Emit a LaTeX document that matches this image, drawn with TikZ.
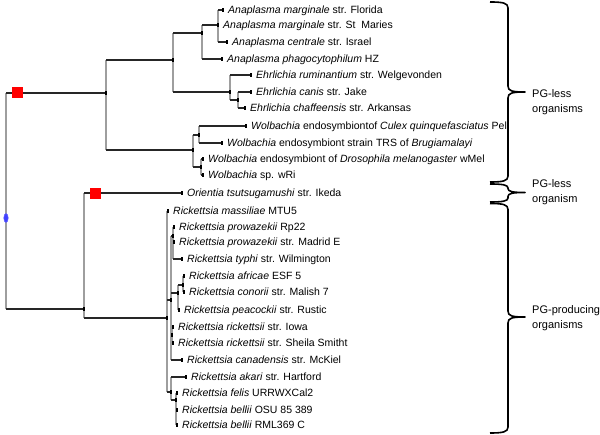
\documentclass[tikz,border=0pt]{standalone}
\usepackage{fontspec}
\setmainfont{Liberation Sans}
\usetikzlibrary{shapes.geometric}
\newcommand{\curlybrace}[4]{%
  \draw[bracestyle] (490,#1) .. controls (503,#1) and (508,#1+1) .. (508,#1+#4)
    -- (508,#2-#4) .. controls (508,#2-1) and (512,#2) .. (525,#2)
    .. controls (512,#2) and (508,#2+1) .. (508,#2+#4)
    -- (508,#3-#4) .. controls (508,#3-1) and (503,#3) .. (490,#3);}
\begin{document}
\begin{tikzpicture}[x=1pt,y=-1pt,
  hline/.style={draw=black!85,line width=1.15pt},
  vline/.style={draw=black!38,line width=1.15pt},
  tipmark/.style={fill=black,draw=none,inner sep=0,minimum width=1.7pt,minimum height=4.2pt},
  leaf/.style={anchor=base west,inner sep=0,xshift=5pt,yshift=-3.8pt,font=\fontsize{10.5}{12}\selectfont},
  grp/.style={anchor=west,inner sep=0,align=left,font=\fontsize{11}{15}\selectfont},
  redsq/.style={fill=red,draw=none,minimum size=11pt,inner sep=0},
  bluedot/.style={ellipse,fill=blue!75,draw=blue!60,line width=0.5pt,minimum width=4.5pt,minimum height=9pt,inner sep=0},
  bracestyle/.style={draw=black,line width=1.6pt,line join=round}]
\useasboundingbox (0,0) rectangle (600,435);
% internal nodes
\coordinate (R) at (6,218);
\coordinate (A) at (106,93);
\coordinate (A1) at (173,60);
\coordinate (An) at (202,33);
\coordinate (Am) at (218,25);
\coordinate (Eh) at (230,92);
\coordinate (Ec) at (238,100);
\coordinate (W) at (193,150);
\coordinate (W1) at (199,135);
\coordinate (W2) at (201,167);
\coordinate (B) at (84,309);
\coordinate (Rk) at (167,318);
\coordinate (R1) at (171,300);
\coordinate (RA) at (173,236);
\coordinate (RB) at (178,293);
\coordinate (RB1) at (183,285);
\coordinate (RC) at (172,335);
\coordinate (RD) at (171,392);
\coordinate (RD1) at (176,400);
% tips
\coordinate (t1) at (223,10);
\coordinate (t2) at (218,25);
\coordinate (t3) at (227,42);
\coordinate (t4) at (222,59);
\coordinate (t5) at (251,75);
\coordinate (t6) at (251,92);
\coordinate (t7) at (245,108);
\coordinate (t8) at (246,126);
\coordinate (t9) at (222,143);
\coordinate (t10) at (203,159);
\coordinate (t11) at (203,175);
\coordinate (t12) at (182,193);
\coordinate (t13) at (168,211);
\coordinate (t14) at (174,227);
\coordinate (t15) at (174,242);
\coordinate (t16) at (182,259);
\coordinate (t17) at (184,276);
\coordinate (t18) at (184,292);
\coordinate (t19) at (179,310);
\coordinate (t20) at (173,327);
\coordinate (t21) at (173,343);
\coordinate (t22) at (182,360);
\coordinate (t23) at (186,377);
\coordinate (t24) at (177,393);
\coordinate (t25) at (177,410);
\coordinate (t26) at (177,425);
\def\edgelist{R/A,R/B,A/A1,A/W,A1/An,A1/Eh,An/Am,An/t4,Am/t1,Am/t2,Am/t3,Eh/t5,Eh/Ec,Ec/t6,Ec/t7,W/W1,W/W2,W1/t8,W1/t9,W2/t10,W2/t11,B/t12,B/Rk,Rk/t13,Rk/R1,Rk/RD,R1/RA,R1/RB,R1/RC,R1/t22,RA/t14,RA/t15,RA/t16,RB/RB1,RB/t19,RB1/t17,RB1/t18,RC/t20,RC/t21,RD/t23,RD/RD1,RD1/t24,RD1/t25,RD1/t26}
\foreach \p/\c in \edgelist {\draw[vline] (\p) -- (\p |- \c);}
\foreach \p/\c in \edgelist {\draw[hline] (\p |- \c) -- (\c);}
\foreach \n in {A,A1,An,Am,Eh,Ec,W,W1,W2,B,Rk,R1,RA,RB,RB1,RC,RD,RD1,t1,t2,t3,t4,t5,t6,t7,t8,t9,t10,t11,t12,t13,t14,t15,t16,t17,t18,t19,t20,t21,t22,t23,t24,t25,t26}
  {\node[tipmark] (m-\n) at (\n) {};}
\node[bluedot] (root) at (R) {};
\node[redsq] (sq1) at (17,93) {};
\node[redsq] (sq2) at (95,193.5) {};
% labels
\node[leaf] (l1) at (t1) {\textit{Anaplasma marginale} str. Florida};
\node[leaf] (l2) at (t2) {\textit{Anaplasma marginale} str. St\ \ Maries};
\node[leaf] (l3) at (t3) {\textit{Anaplasma centrale} str. Israel};
\node[leaf] (l4) at (t4) {\textit{Anaplasma phagocytophilum} HZ};
\node[leaf] (l5) at (t5) {\textit{Ehrlichia ruminantium} str. Welgevonden};
\node[leaf] (l6) at (t6) {\textit{Ehrlichia canis} str. Jake};
\node[leaf] (l7) at (t7) {\textit{Ehrlichia chaffeensis} str. Arkansas};
\node[leaf] (l8) at (t8) {\textit{Wolbachia} endosymbiontof \textit{Culex quinquefasciatus} Pel};
\node[leaf] (l9) at (t9) {\textit{Wolbachia} endosymbiont strain TRS of \textit{Brugiamalayi}};
\node[leaf] (l10) at (t10) {\textit{Wolbachia} endosymbiont of \textit{Drosophila melanogaster} wMel};
\node[leaf] (l11) at (t11) {\textit{Wolbachia} sp. wRi};
\node[leaf] (l12) at (t12) {\textit{Orientia tsutsugamushi} str. Ikeda};
\node[leaf] (l13) at (t13) {\textit{Rickettsia massiliae} MTU5};
\node[leaf] (l14) at (t14) {\textit{Rickettsia prowazekii} Rp22};
\node[leaf] (l15) at (t15) {\textit{Rickettsia prowazekii} str. Madrid E};
\node[leaf] (l16) at (t16) {\textit{Rickettsia typhi} str. Wilmington};
\node[leaf] (l17) at (t17) {\textit{Rickettsia africae} ESF 5};
\node[leaf] (l18) at (t18) {\textit{Rickettsia conorii} str. Malish 7};
\node[leaf] (l19) at (t19) {\textit{Rickettsia peacockii} str. Rustic};
\node[leaf] (l20) at (t20) {\textit{Rickettsia rickettsii} str. Iowa};
\node[leaf] (l21) at (t21) {\textit{Rickettsia rickettsii} str. Sheila Smitht};
\node[leaf] (l22) at (t22) {\textit{Rickettsia canadensis} str. McKiel};
\node[leaf] (l23) at (t23) {\textit{Rickettsia akari} str. Hartford};
\node[leaf] (l24) at (t24) {\textit{Rickettsia felis} URRWXCal2};
\node[leaf] (l25) at (t25) {\textit{Rickettsia bellii} OSU 85 389};
\node[leaf] (l26) at (t26) {\textit{Rickettsia bellii} RML369 C};
% braces
\curlybrace{2}{92}{182}{6}
\curlybrace{184}{192.5}{202}{4}
\curlybrace{203.5}{317}{433}{6}
\node[grp] (g1) at (532,102.5) {PG-less\\organisms};
\node[grp] (g2) at (532,192) {PG-less\\organism};
\node[grp] (g3) at (532,318.5) {PG-producing\\organisms};
\end{tikzpicture}
\end{document}
